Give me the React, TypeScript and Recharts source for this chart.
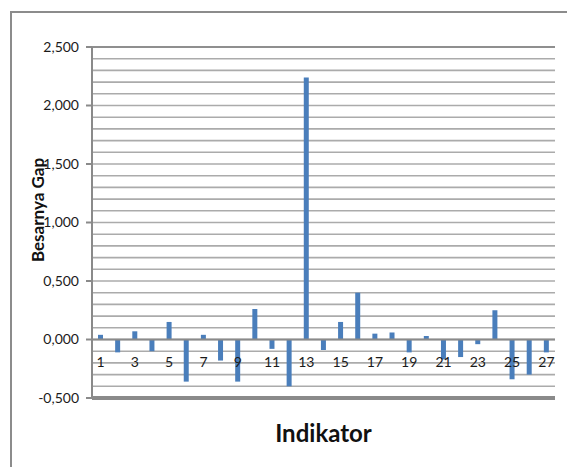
import { BarChart, Bar, XAxis, YAxis, CartesianGrid, ReferenceLine } from 'recharts';

const indikator = [
  '1', '2', '3', '4', '5', '6', '7', '8', '9', '10', '11', '12', '13', '14',
  '15', '16', '17', '18', '19', '20', '21', '22', '23', '24', '25', '26', '27',
];

const gap = [
  0.04, -0.11, 0.07, -0.1, 0.15, -0.36, 0.04, -0.18, -0.36, 0.26, -0.08, -0.4, 2.24, -0.09,
  0.15, 0.4, 0.05, 0.06, -0.11, 0.03, -0.17, -0.15, -0.04, 0.25, -0.34, -0.3, -0.11,
];

const yTicks = [
  -0.5, -0.4, -0.3, -0.2, -0.1, 0, 0.1, 0.2, 0.3, 0.4, 0.5, 0.6, 0.7, 0.8, 0.9, 1.0,
  1.1, 1.2, 1.3, 1.4, 1.5, 1.6, 1.7, 1.8, 1.9, 2.0, 2.1, 2.2, 2.3, 2.4, 2.5,
];

const majorTicks = [-0.5, 0, 0.5, 1.0, 1.5, 2.0, 2.5];

const Y_MIN = -0.5;
const Y_MAX = 2.5;

const W = 567;
const H = 467;
const TOP = 47;
const X_AXIS_H = 69;
const PLOT_H = H - TOP - X_AXIS_H;
// distance from the plot floor up to the zero line
const zeroFromBottom = (PLOT_H * (0 - Y_MIN)) / (Y_MAX - Y_MIN);

const FONT = 'Lato, "Open Sans", sans-serif';

const data = indikator.map((name, i) => ({ name, gap: gap[i] }));

const fmt = (v: number) => v.toFixed(3).replace('.', ',');

const YTick = (props: any) => {
  const { x, y, payload } = props;
  const isMajor = majorTicks.some((m) => Math.abs(m - payload.value) < 1e-6);
  if (!isMajor) return null;
  return (
    <g>
      <line x1={x - 6} x2={x} y1={y} y2={y} stroke="#8a8a8a" strokeWidth={2} />
      <text x={x - 13} y={y} dy="0.35em" textAnchor="end" fontSize={14} fontFamily={FONT} fill="#1a1a1a">
        {fmt(payload.value)}
      </text>
    </g>
  );
};

const XTick = (props: any) => {
  const { x, y, payload, index } = props;
  if (index % 2 !== 0) return null;
  return (
    <text
      x={x}
      y={y - zeroFromBottom + 23}
      dy="0.35em"
      textAnchor="middle"
      fontSize={14}
      fontFamily={FONT}
      fill="#1a1a1a"
    >
      {payload.value}
    </text>
  );
};

export default function App() {
  return (
    <div
      style={{
        position: 'absolute',
        left: 0,
        top: 0,
        width: W,
        height: H,
        overflow: 'hidden',
        background: '#fff',
        fontFamily: FONT,
      }}
    >
      <div
        style={{
          position: 'absolute',
          left: 10,
          top: 11,
          width: W - 10,
          height: H - 11,
          borderLeft: '2px solid #8c8c8c',
          borderTop: '2px solid #8c8c8c',
        }}
      />
      <BarChart
        width={W}
        height={H}
        data={data}
        margin={{ top: TOP, right: 12, bottom: 0, left: 12 }}
        style={{ position: 'absolute', left: 0, top: 0 }}
      >
        <CartesianGrid vertical={false} stroke="#ababab" strokeWidth={1.6} />
        <XAxis
          dataKey="name"
          interval={0}
          height={X_AXIS_H}
          axisLine={false}
          tickLine={false}
          tickSize={0}
          tickMargin={0}
          tick={<XTick />}
          label={{
            value: 'Indikator',
            position: 'insideBottom',
            offset: 25,
            style: { fontSize: 24, fontWeight: 700, fontFamily: FONT, fill: '#111' },
          }}
        />
        <YAxis
          width={80}
          domain={[Y_MIN, Y_MAX]}
          ticks={yTicks}
          interval={0}
          tickLine={false}
          tickSize={0}
          tickMargin={0}
          axisLine={{ stroke: '#8a8a8a', strokeWidth: 2 }}
          tick={<YTick />}
          label={{
            content: () => (
              <text
                x={38}
                y={210}
                transform="rotate(-90, 38, 210)"
                textAnchor="middle"
                dy="0.35em"
                fontSize={17}
                fontWeight={700}
                fontFamily={FONT}
                fill="#111"
              >
                Besarnya Gap
              </text>
            ),
          }}
        />
        <ReferenceLine y={Y_MAX} stroke="#8f8f8f" strokeWidth={2} />
        <ReferenceLine y={Y_MIN} stroke="#8a8a8a" strokeWidth={4} />
        <ReferenceLine y={0} stroke="#8a8a8a" strokeWidth={2} />
        <Bar dataKey="gap" fill="#4a7ebb" barSize={5} isAnimationActive={false} />
      </BarChart>
    </div>
  );
}
